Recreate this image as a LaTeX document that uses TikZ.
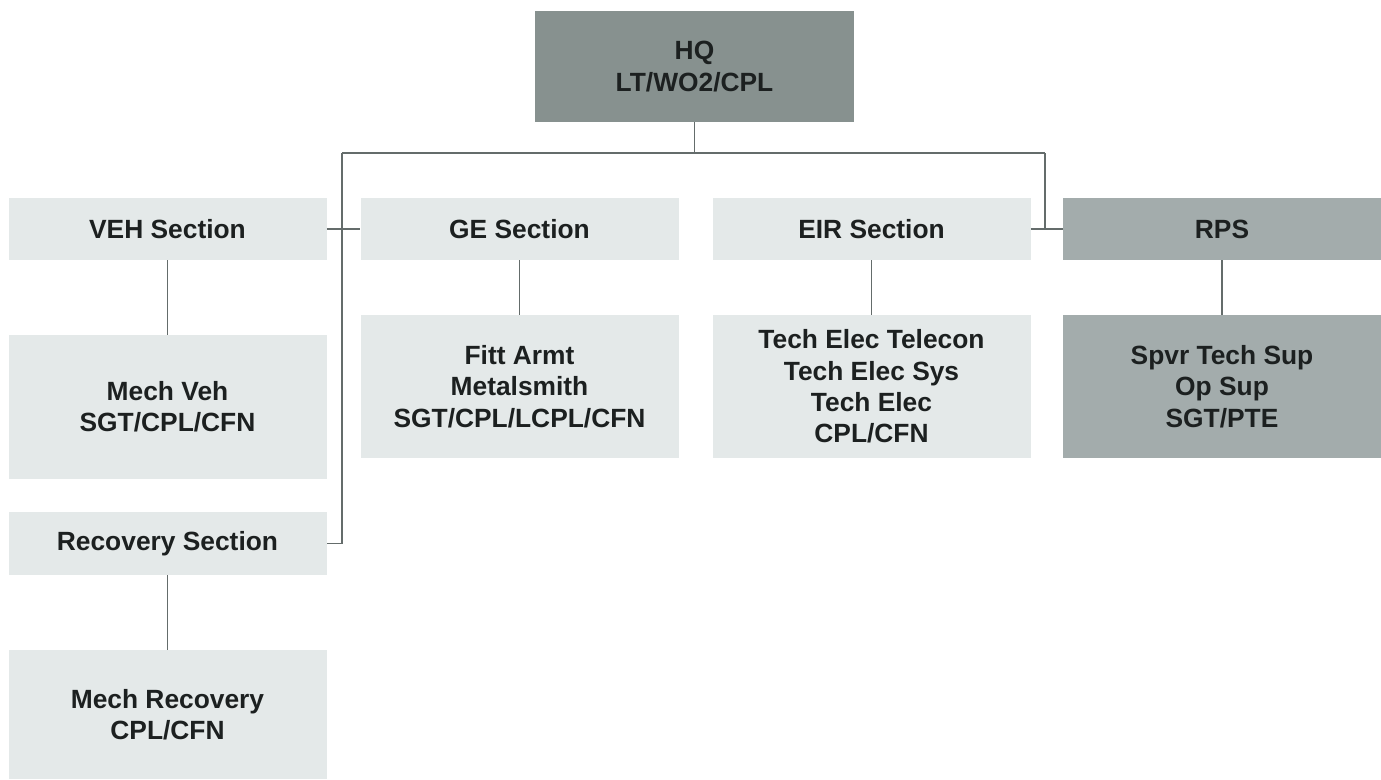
\documentclass[tikz,border=0pt]{standalone}
\usepackage{fontspec}
\setmainfont{Liberation Sans}
\usetikzlibrary{positioning, calc}

\definecolor{hqgrey}{HTML}{87918F}
\definecolor{rpsgrey}{HTML}{A3ACAC}
\definecolor{lightgrey}{HTML}{E4E9E9}
\definecolor{linegrey}{HTML}{646C6B}
\definecolor{textgrey}{HTML}{1C2020}

\tikzset{
    unit/.style={rectangle, align=center, inner sep=0pt, text=textgrey,
                 font=\fontsize{15}{17.8}\selectfont\bfseries},
    hqbox/.style={unit, fill=hqgrey, minimum width=319*0.02cm, minimum height=111*0.02cm},
    section/.style={unit, fill=lightgrey, minimum width=318*0.02cm, minimum height=62*0.02cm},
    trade/.style={unit, fill=lightgrey, minimum width=318*0.02cm, minimum height=143*0.02cm},
    dark/.style={fill=rpsgrey},
    link/.style={draw=linegrey, line width=0.85pt}
}

\begin{document}
\begin{tikzpicture}[x=0.02cm, y=-0.02cm]
        \fill[white] (0,0) rectangle (1381,779);
        \useasboundingbox (0,0) rectangle (1381,779);

        \node[hqbox] (hq) at (694.5,66.5) {HQ\\LT/WO2/CPL};

        \node[section] (veh) at (167.5,229) {VEH Section};
        \node[section] (ge) at (519.5,229) {GE Section};
        \node[section] (eir) at (871.5,229) {EIR Section};
        \node[section, dark] (rps) at (1222,229) {RPS};

        \node[trade, minimum height=144*0.02cm] (mechveh) at (167.5,407) {Mech Veh\\SGT/CPL/CFN};
        \node[trade] (fitt) at (519.5,386.5) {Fitt Armt\\Metalsmith\\SGT/CPL/LCPL/CFN};
        \node[trade] (tech) at (871.5,386.5) {Tech Elec Telecon\\Tech Elec Sys\\Tech Elec\\CPL/CFN};
        \node[trade, dark] (spvr) at (1222,386.5) {Spvr Tech Sup\\Op Sup\\SGT/PTE};

        \node[section, minimum height=63*0.02cm] (recov) at (167.5,543.5) {Recovery Section};
        \node[trade, minimum height=129*0.02cm] (mechrec) at (167.5,714.5) {Mech Recovery\\CPL/CFN};

        \coordinate (busL) at (342,153);
        \coordinate (busR) at (1045,153);

        \path[link] (hq.south) edge (hq.south |- busL)
                    (busL) edge (busR)
                    (busL) edge (busL |- recov.east)
                    (busL |- recov.east) edge (recov.east)
                    (veh.east) edge (ge.west)
                    (busR) edge (busR |- rps.west)
                    (eir.east) edge (rps.west)
                    (veh.south) edge (mechveh.north)
                    (ge.south) edge (fitt.north)
                    (eir.south) edge (tech.north)
                    (rps.south) edge (spvr.north)
                    (recov.south) edge (mechrec.north);
    \end{tikzpicture}
\end{document}
